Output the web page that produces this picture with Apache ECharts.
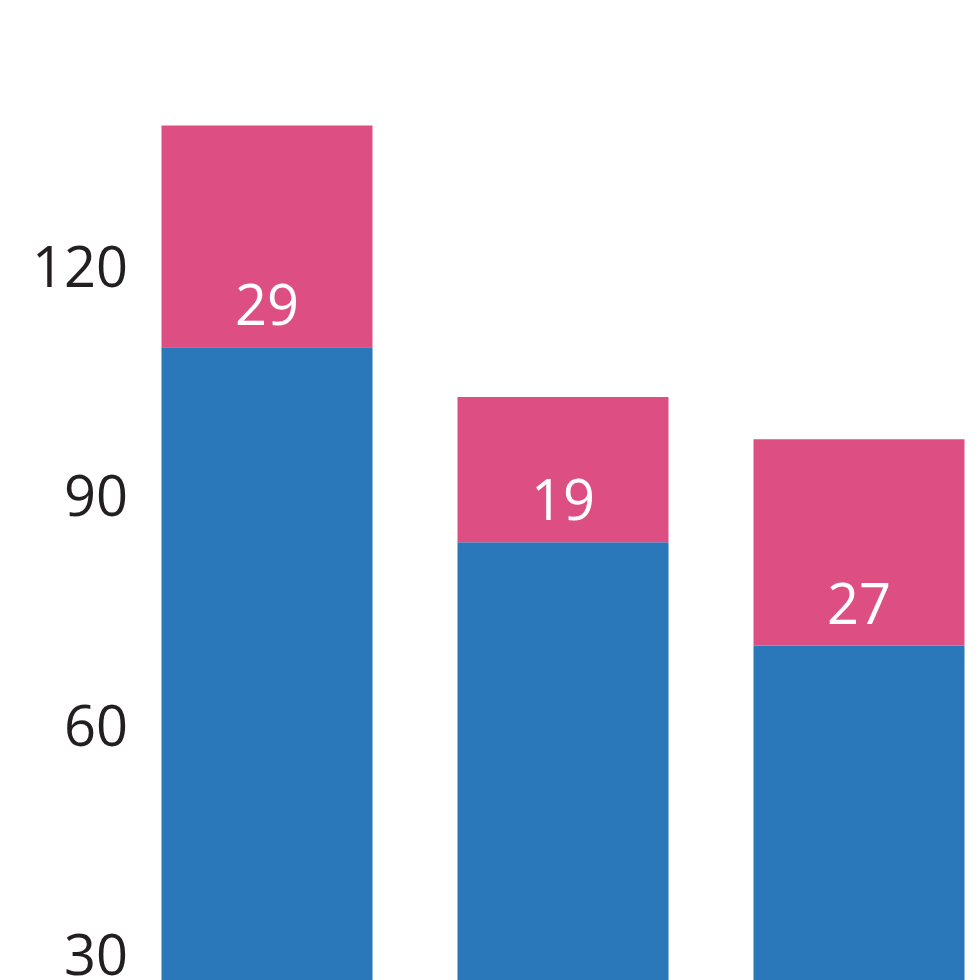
<!DOCTYPE html>
<html><head><meta charset="utf-8">
<script src="https://cdn.jsdelivr.net/npm/echarts@6/dist/echarts.min.js"></script>
<style>html,body{margin:0;padding:0;background:#fff}#c{width:980px;height:980px}</style>
</head><body><div id="c"></div>
<script>
var categories = ['A', 'B', 'C'];
var blueValues = [110, 84.5, 71];
var pinkValues = [29, 19, 27];
var yTicks = [0, 30, 60, 90, 120, 150];

var chart = echarts.init(document.getElementById('c'));
chart.setOption({
  animation: false,
  grid: { left: 119, width: 888, top: 41.5, height: 1147, outerBoundsMode: 'none', containLabel: false },
  xAxis: {
    type: 'category', data: categories,
    axisLine: { show: false }, axisTick: { show: false }, axisLabel: { show: false }
  },
  yAxis: {
    type: 'value', min: yTicks[0], max: yTicks[yTicks.length - 1], interval: 30,
    splitLine: { show: false }, axisLine: { show: false }, axisTick: { show: false },
    axisLabel: { showMaxLabel: false, margin: -9, fontSize: 56, color: '#231f20', fontFamily: 'Open Sans' }
  },
  series: [
    { name: 'Series 1', type: 'bar', stack: 's', data: blueValues, barWidth: 211,
      itemStyle: { color: '#2a77b9' } },
    { name: 'Series 2', type: 'bar', stack: 's', data: pinkValues, barWidth: 211,
      itemStyle: { color: '#dd4f83' },
      label: { show: true, position: 'insideBottom', distance: 10, color: '#fff', fontSize: 56, fontFamily: 'Open Sans' } }
  ]
});
</script></body></html>
